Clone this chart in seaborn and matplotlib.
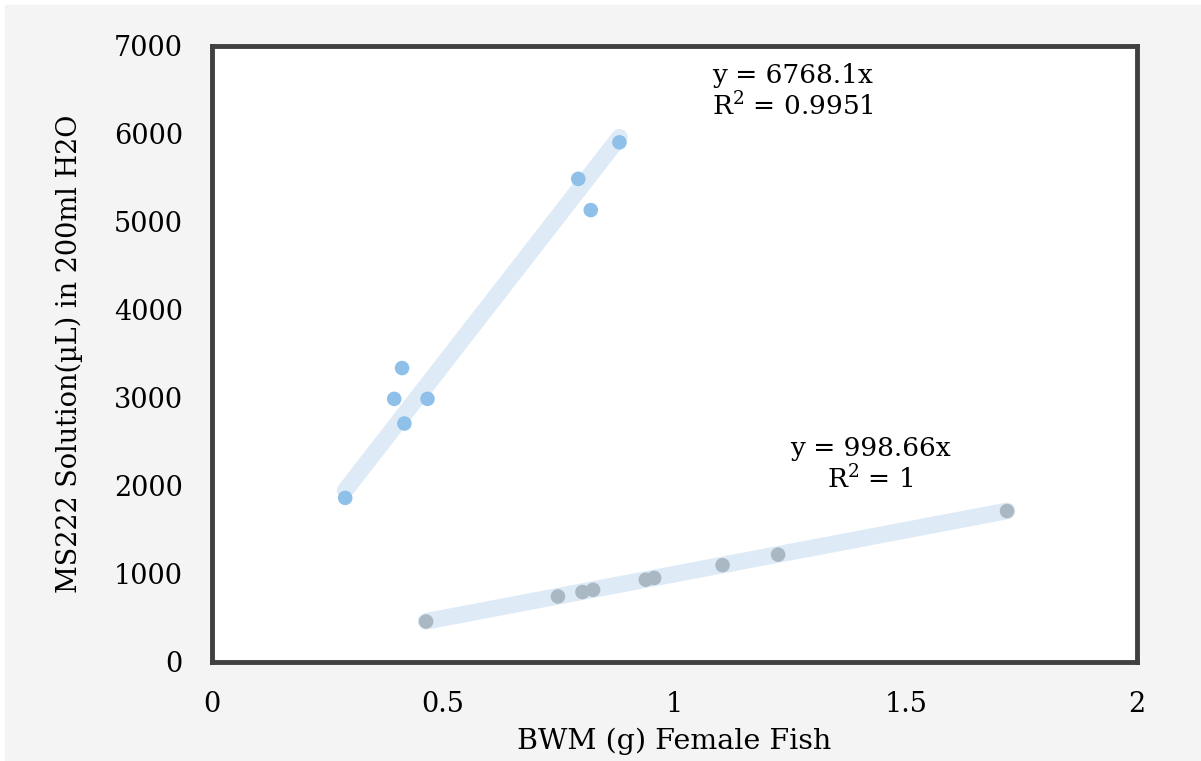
import numpy as np
import seaborn as sns
import matplotlib.pyplot as plt
from matplotlib.lines import Line2D

# series 1 (blue)
bwm_a = [0.288, 0.394, 0.411, 0.416, 0.466, 0.792, 0.819, 0.881]
ms_a = [1865, 2990, 3340, 2710, 2990, 5490, 5135, 5905]
slope_a = 6768.1
label_a = "y = 6768.1x\nR$^2$ = 0.9951"

# series 2 (gray)
bwm_b = [0.463, 0.748, 0.801, 0.824, 0.938, 0.956, 1.104, 1.224, 1.719]
ms_b = [460, 745, 795, 820, 935, 955, 1100, 1220, 1715]
slope_b = 998.66
label_b = "y = 998.66x\nR$^2$ = 1"

x_ticks = [0, 0.5, 1, 1.5, 2]
x_ticklabels = ["0", "0.5", "1", "1.5", "2"]
y_ticks = [0, 1000, 2000, 3000, 4000, 5000, 6000, 7000]

sns.set_style("white")
plt.rcParams["font.family"] = ["DejaVu Serif"]
plt.rcParams["mathtext.fontset"] = "dejavuserif"
for key in ("text.color", "axes.labelcolor", "xtick.color", "ytick.color"):
    plt.rcParams[key] = "black"

fig = plt.figure(figsize=(12.01, 7.61), dpi=100, facecolor="#f4f4f4")
# thin white edge on the left and top
fig.add_artist(Line2D([0.002, 0.002], [0, 1], transform=fig.transFigure, color="white", linewidth=4))
fig.add_artist(Line2D([0, 1], [0.997, 0.997], transform=fig.transFigure, color="white", linewidth=4))

ax = fig.add_axes([0.1765, 0.1301, 0.7702, 0.8095])
ax.set_facecolor("white")

trend = "#deebf7"
for xs, k in ((bwm_a, slope_a), (bwm_b, slope_b)):
    xx = np.array([min(xs), max(xs)])
    ax.plot(xx, k * xx, color=trend, linewidth=12, solid_capstyle="round", zorder=1)

sns.scatterplot(x=bwm_a, y=ms_a, ax=ax, color="#8fc0ea", s=110, edgecolor="none", zorder=3)
sns.scatterplot(x=bwm_b, y=ms_b, ax=ax, color="#aab8c4", s=110, edgecolor="none", zorder=3)

ax.text(1.256, 6480, label_a, ha="center", va="center", fontsize=19, linespacing=1.15)
ax.text(1.423, 2240, label_b, ha="center", va="center", fontsize=19, linespacing=1.15)

ax.set_xlim(0, 2)
ax.set_ylim(0, 7000)
ax.set_xticks(x_ticks)
ax.set_xticklabels(x_ticklabels)
ax.set_yticks(y_ticks)
ax.tick_params(axis="both", length=0, labelsize=19.5)
ax.tick_params(axis="x", pad=21)
ax.tick_params(axis="y", pad=21)
for s in ax.spines.values():
    s.set_visible(True)
    s.set_color("#404040")
    s.set_linewidth(3.5)

ax.set_xlabel("BWM (g) Female Fish", fontsize=20.5, labelpad=7)
ax.set_ylabel("MS222 Solution(µL) in 200ml H2O", fontsize=19.5, labelpad=22)

fig.savefig("out.png", dpi=100, facecolor=fig.get_facecolor())
